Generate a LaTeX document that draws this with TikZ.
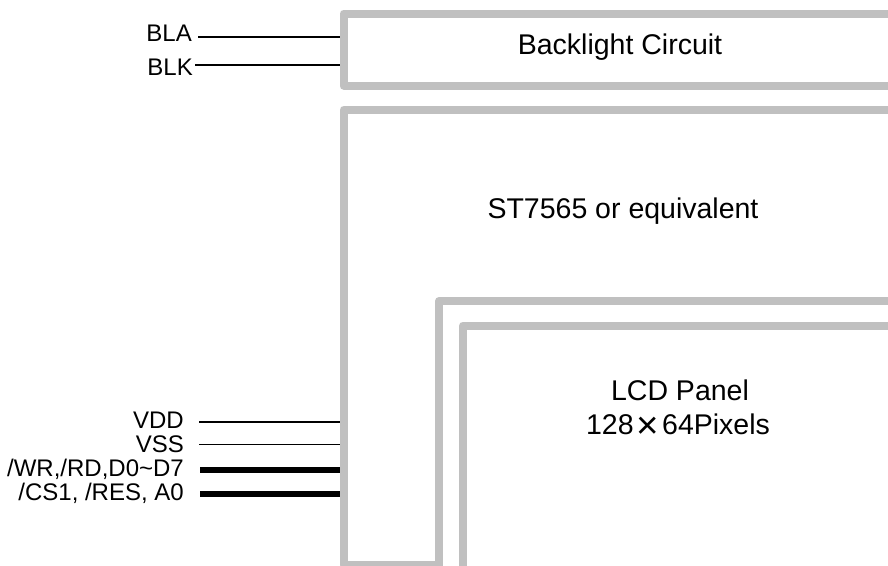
\documentclass[tikz,border=0pt]{standalone}
\usepackage{fontspec}
\setmainfont{Liberation Sans}
\begin{document}
\begin{tikzpicture}[x=1pt,y=-1pt,
  boxline/.style={draw=boxgray,line width=8pt,line join=round},
  pinlabel/.style={anchor=base east,inner sep=0pt,font=\fontsize{24}{28}\selectfont},
  bigtext/.style={anchor=base,inner sep=0pt,font=\fontsize{28.5}{34}\selectfont},
  thinwire/.style={draw=black,line width=1.6pt},
  thickwire/.style={draw=black,line width=6pt}]
\definecolor{boxgray}{HTML}{C0C0C0}
\useasboundingbox (0,0) rectangle (888,565);
\clip (0,0) rectangle (888,565);
% boxes
\draw[boxline] (343.5,13.5) rectangle (920,85.5);
\draw[boxline] (343.5,109.7) rectangle (920,565);
\draw[boxline,fill=white] (439,301) rectangle (920,620);
\draw[boxline] (463,325.5) rectangle (920,620);
% texts in boxes
\node[bigtext] (bl) at (620,54.3) {Backlight Circuit};
\node[bigtext] (st) at (623,218) {ST7565 or equivalent};
\node[bigtext] (lcd1) at (680,400) {LCD Panel};
\node[bigtext] (lcd2) at (678,434) {128\makebox[1em][c]{\raisebox{-4pt}{\scalebox{1.35}[1.35]{×}}}64Pixels};
% pin labels
\node[pinlabel] (bla) at (192,41.7) {BLA};
\node[pinlabel] (blk) at (193,75) {BLK};
\node[pinlabel] (vdd) at (184,428.5) {VDD};
\node[pinlabel] (vss) at (184,452.7) {VSS};
\node[pinlabel] (wr) at (184,476.7) {/WR,/RD,D0\char`\~D7};
\node[pinlabel] (cs) at (184,500.7) {/CS1, /RES, A0};
% wire endpoints
\coordinate (blaS) at (198,37);
\coordinate (blaE) at (340,37);
\coordinate (blkS) at (195,65);
\coordinate (blkE) at (340,65);
\coordinate (vddS) at (199,421.7);
\coordinate (vddE) at (340,421.7);
\coordinate (vssS) at (199,444.3);
\coordinate (vssE) at (340,444.3);
\coordinate (wrS) at (200,470);
\coordinate (wrE) at (340,470);
\coordinate (csS) at (200,493.7);
\coordinate (csE) at (340,493.7);
% wires
\draw[thinwire] (blaS) -- (blaE);
\draw[thinwire] (blkS) -- (blkE);
\draw[thinwire] (vddS) -- (vddE);
\draw[thinwire] (vssS) -- (vssE);
\draw[thickwire] (wrS) -- (wrE);
\draw[thickwire] (csS) -- (csE);
\end{tikzpicture}
\end{document}
